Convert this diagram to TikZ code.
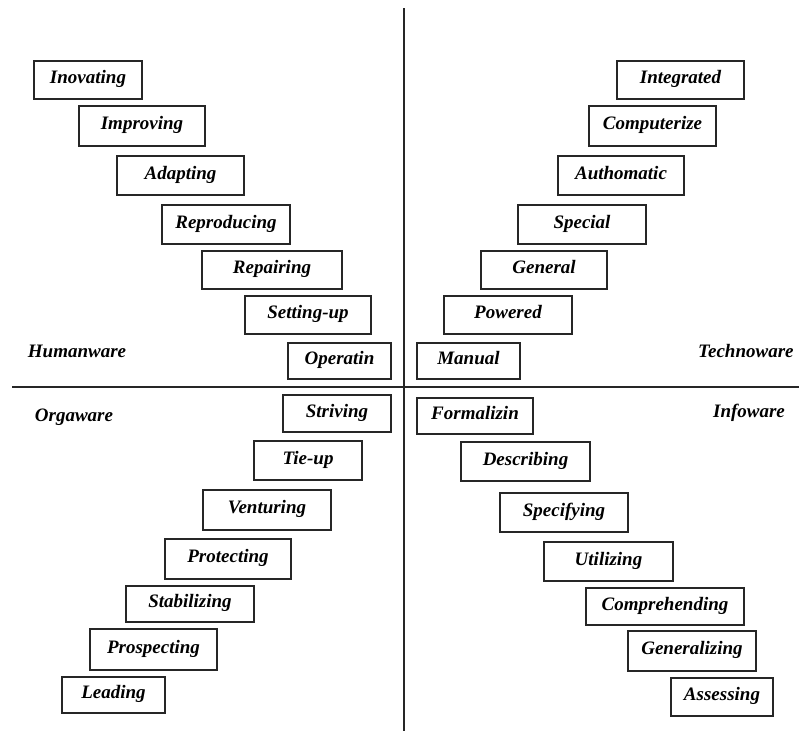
\documentclass[tikz,border=0pt]{standalone}
\usepackage{fontspec}
\setmainfont{Liberation Serif}
\begin{document}
\begin{tikzpicture}[x=1pt,y=-1pt,
  bx/.style={draw=black!85, line width=1.2pt, inner sep=0pt, text height=12pt, text depth=5pt,
    font=\fontsize{19}{22}\selectfont\bfseries\itshape},
  lbl/.style={inner sep=0pt, font=\fontsize{19}{22}\selectfont\bfseries\itshape},
  axis/.style={line width=1.8pt, black!85}]
\useasboundingbox (0,0) rectangle (799,731);
\fill[white] (0,0) rectangle (799,731);
% axes
\coordinate (vtop) at (404,8);
\coordinate (vbot) at (404,731);
\coordinate (hl) at (12,387);
\coordinate (hr) at (799,387);
\draw[axis] (vtop) -- (vbot);
\draw[axis] (hl) -- (hr);
% Humanware
\node[bx, minimum width=108pt, minimum height=38pt] (inov) at (88,80) {Inovating};
\node[bx, minimum width=126pt, minimum height=40pt] (impr) at (142,126) {Improving};
\node[bx, minimum width=127pt, minimum height=39pt] (adap) at (180.5,175.5) {Adapting};
\node[bx, minimum width=128pt, minimum height=39pt] (repr) at (226,224.5) {Reproducing};
\node[bx, minimum width=140pt, minimum height=38pt] (repa) at (272,270) {Repairing};
\node[bx, minimum width=126pt, minimum height=38pt] (sett) at (308,315) {Setting-up};
\node[bx, minimum width=103pt, minimum height=36pt] (oper) at (339.5,361) {Operatin};
\node[lbl] (human) at (77,351) {Humanware};
% Technoware
\node[bx, minimum width=127pt, minimum height=38pt] (inte) at (680.5,80) {Integrated};
\node[bx, minimum width=127pt, minimum height=40pt] (comp) at (652.5,126) {Computerize};
\node[bx, minimum width=126pt, minimum height=39pt] (auto) at (621,175.5) {Authomatic};
\node[bx, minimum width=128pt, minimum height=39pt] (spec) at (582,224.5) {Special};
\node[bx, minimum width=126pt, minimum height=38pt] (gene) at (544,270) {General};
\node[bx, minimum width=128pt, minimum height=38pt] (powe) at (508,315) {Powered};
\node[bx, minimum width=103pt, minimum height=36pt] (manu) at (468.5,361) {Manual};
\node[lbl, anchor=west] (techno) at (698,351) {Technoware};
% Orgaware
\node[bx, minimum width=108pt, minimum height=37pt] (stri) at (337,413.5) {Striving};
\node[bx, minimum width=108pt, minimum height=39pt] (tieu) at (308,460.5) {Tie-up};
\node[bx, minimum width=128pt, minimum height=40pt] (vent) at (267,510) {Venturing};
\node[bx, minimum width=126pt, minimum height=40pt] (prot) at (228,559) {Protecting};
\node[bx, minimum width=128pt, minimum height=36pt] (stab) at (190,604) {Stabilizing};
\node[bx, minimum width=127pt, minimum height=41pt] (pros) at (153.5,649.5) {Prospecting};
\node[bx, minimum width=103pt, minimum height=36pt] (lead) at (113.5,695) {Leading};
\node[lbl] (orga) at (74,417) {Orgaware};
% Infoware
\node[bx, minimum width=116pt, minimum height=36pt] (form) at (475,416) {Formalizin};
\node[bx, minimum width=129pt, minimum height=39pt] (desc) at (525.5,461.5) {Describing};
\node[bx, minimum width=128pt, minimum height=39pt] (spcf) at (564,512.5) {Specifying};
\node[bx, minimum width=129pt, minimum height=39pt] (util) at (608.5,561.5) {Utilizing};
\node[bx, minimum width=158pt, minimum height=37pt] (cmpr) at (665,606.5) {Comprehending};
\node[bx, minimum width=128pt, minimum height=40pt] (genz) at (692,651) {Generalizing};
\node[bx, minimum width=102pt, minimum height=38pt] (asse) at (722,697) {Assessing};
\node[lbl] (info) at (749,413) {Infoware};
\end{tikzpicture}
\end{document}
